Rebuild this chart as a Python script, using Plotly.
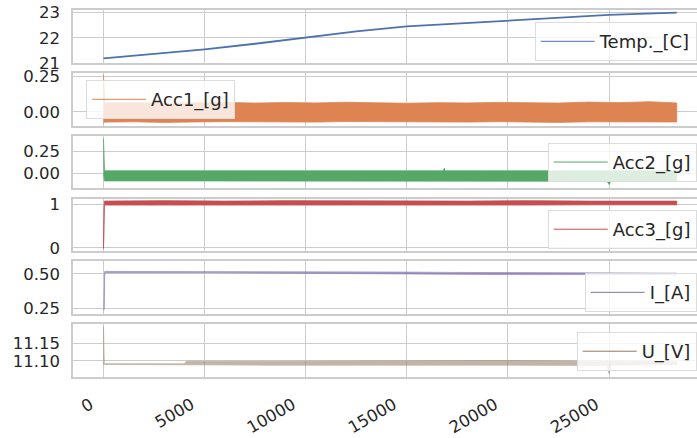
import plotly.graph_objects as go
from plotly.subplots import make_subplots

# ---------------- data ----------------
TEMP_X = [0, 2500, 5000, 7500, 10000, 12500, 15000, 17500, 20000, 22500, 25000, 28350]
TEMP_Y = [21.18, 21.36, 21.54, 21.76, 22.01, 22.25, 22.45, 22.57, 22.68, 22.80, 22.91, 23.00]

ACC1_X = [0, 60, 1500, 3000, 4500, 6000, 7500, 9000, 10500, 12000, 13500, 15000,
          16500, 18000, 19500, 21000, 22500, 24000, 25500, 27000, 28350]
ACC1_HI = [0.26, 0.062, 0.064, 0.060, 0.063, 0.066, 0.061, 0.065, 0.062, 0.067, 0.063,
           0.060, 0.064, 0.062, 0.066, 0.063, 0.061, 0.068, 0.064, 0.071, 0.062]
ACC1_LO = [-0.08, -0.072, -0.070, -0.074, -0.071, -0.069, -0.073, -0.070, -0.072, -0.068,
           -0.071, -0.073, -0.070, -0.072, -0.069, -0.071, -0.074, -0.070, -0.072, -0.070, -0.071]

ACC2_X = [0, 50, 2000, 5000, 8000, 11000, 14000, 16800, 16850, 16900, 19000, 22000,
          24900, 25000, 25100, 28350]
ACC2_HI = [0.40, 0.030, 0.030, 0.031, 0.030, 0.029, 0.031, 0.030, 0.060, 0.030, 0.030,
           0.031, 0.030, 0.030, 0.030, 0.030]
ACC2_LO = [0.0, -0.085, -0.088, -0.085, -0.087, -0.086, -0.085, -0.087, -0.087, -0.087,
           -0.086, -0.088, -0.087, -0.125, -0.087, -0.086]

ACC3_X = [0, 40, 3000, 6000, 9000, 12000, 15000, 18000, 21000, 24000, 27000, 28350]
ACC3_HI = [0.0, 1.07, 1.08, 1.07, 1.08, 1.07, 1.075, 1.07, 1.08, 1.07, 1.075, 1.07]
ACC3_LO = [-0.02, 0.98, 0.985, 0.98, 0.985, 0.98, 0.985, 0.98, 0.98, 0.985, 0.98, 0.985]

I_X = [0, 30, 60, 3000, 6000, 9000, 12000, 15000, 17000, 19000, 21000, 23000, 25000, 27000, 28350]
I_HI = [0.245, 0.245, 0.517, 0.517, 0.516, 0.517, 0.515, 0.512, 0.510, 0.508, 0.507, 0.506, 0.505, 0.505, 0.504]
I_LO = [0.240, 0.240, 0.508, 0.508, 0.507, 0.508, 0.506, 0.502, 0.497, 0.495, 0.494, 0.494, 0.493, 0.495, 0.496]

U_X = [0, 40, 4000, 4100, 8000, 12000, 16000, 20000, 24900, 25000, 25100, 28350]
U_HI = [11.198, 11.092, 11.092, 11.099, 11.099, 11.100, 11.099, 11.101, 11.099, 11.099, 11.099, 11.098]
U_LO = [11.090, 11.089, 11.089, 11.088, 11.088, 11.088, 11.087, 11.088, 11.087, 11.064, 11.088, 11.090]

NAMES = ["Temp._[C]", "Acc1_[g]", "Acc2_[g]", "Acc3_[g]", "I_[A]", "U_[V]"]
COLORS = ["#4C72B0", "#DD8452", "#55A868", "#C44E52", "#8172B3", "#937860"]

X_TICKS = [0, 5000, 10000, 15000, 20000, 25000]
X_TICKTEXT = ["0", "5000", "10000", "15000", "20000", "25000"]
Y_TICKS = [[21, 22, 23], [0.0, 0.25], [0.0, 0.25], [0, 1], [0.25, 0.50], [11.10, 11.15]]
Y_TICKTEXT = [["21", "22", "23"], ["0.00", "0.25"], ["0.00", "0.25"], ["0", "1"],
              ["0.25", "0.50"], ["11.10", "11.15"]]
Y_RANGES = [[21.0, 23.105], [-0.097, 0.273], [-0.172, 0.433], [-0.08, 1.13],
            [0.208, 0.59], [11.054, 11.2055]]

# ---------------- figure ----------------
fig = make_subplots(rows=6, cols=1, shared_xaxes=True, vertical_spacing=0.02725)

fig.add_trace(go.Scatter(x=TEMP_X, y=TEMP_Y, mode="lines",
                         line=dict(color=COLORS[0], width=1.8),
                         showlegend=False), row=1, col=1)

bands = [(ACC1_X, ACC1_HI, ACC1_LO, 1.0), (ACC2_X, ACC2_HI, ACC2_LO, 1.0),
         (ACC3_X, ACC3_HI, ACC3_LO, 1.0), (I_X, I_HI, I_LO, 0.75),
         (U_X, U_HI, U_LO, 0.55)]
for i, (bx, hi, lo, op) in enumerate(bands):
    row = i + 2
    fig.add_trace(go.Scatter(x=list(bx) + list(bx)[::-1], y=list(hi) + list(lo)[::-1],
                             mode="lines", fill="toself", fillcolor=COLORS[row - 1],
                             line=dict(color=COLORS[row - 1], width=0.8),
                             opacity=op, showlegend=False, hoverinfo="skip"),
                  row=row, col=1)

legend_pos = [
    dict(x=0.9995, y=0.967, xanchor="right"),
    dict(x=0.021, y=0.809, xanchor="left"),
    dict(x=0.9995, y=0.638, xanchor="right"),
    dict(x=0.9995, y=0.455, xanchor="right"),
    dict(x=0.9995, y=0.283, xanchor="right"),
    dict(x=0.9995, y=0.1226, xanchor="right"),
]
for i, name in enumerate(NAMES):
    lname = "legend" if i == 0 else f"legend{i + 1}"
    fig.add_trace(go.Scatter(x=[None], y=[None], mode="lines", name=name,
                             line=dict(color=COLORS[i], width=1),
                             showlegend=True, legend=lname), row=i + 1, col=1)
    fig.update_layout({lname: dict(**legend_pos[i], yanchor="top",
                                   bgcolor="rgba(255,255,255,0.8)",
                                   bordercolor="#dcdcdc", borderwidth=1,
                                   font=dict(family="DejaVu Sans", size=18, color="#262626"),
                                   itemwidth=54, tracegroupgap=0)})

grid = "#cccccc"
fig.update_xaxes(range=[-1508, 29352], tickvals=X_TICKS, ticktext=X_TICKTEXT,
                 showgrid=True, gridcolor=grid,
                 gridwidth=1, showline=True, linecolor=grid, linewidth=1.5, mirror=True,
                 zeroline=False, ticks="", automargin=False)
fig.update_xaxes(row=6, col=1, tickangle=-30, ticklabelstandoff=10, ticklabelshift=-13,
                 tickfont=dict(family="DejaVu Sans", size=16.5, color="#262626"))
for r in range(6):
    fig.update_yaxes(row=r + 1, col=1, range=Y_RANGES[r], tickvals=Y_TICKS[r],
                     ticktext=Y_TICKTEXT[r], showgrid=True, gridcolor=grid, gridwidth=1,
                     showline=True, linecolor=grid, linewidth=1.5, mirror=False,
                     zeroline=False, ticks="", ticklabelstandoff=8, automargin=False,
                     tickfont=dict(family="DejaVu Sans", size=16.5, color="#262626"))

fig.update_layout(width=697, height=438, margin=dict(l=73, r=0, t=10, b=61),
                  paper_bgcolor="white", plot_bgcolor="white")

fig.write_html("out.html", config={"displayModeBar": False},
               post_script="document.body.style.margin='0';document.body.style.overflow='hidden';")
